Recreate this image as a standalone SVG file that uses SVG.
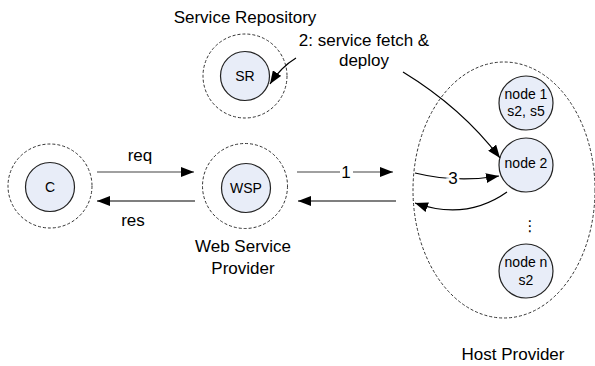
<svg xmlns="http://www.w3.org/2000/svg" width="595" height="366" viewBox="0 0 595 366">
  <defs>
    <marker id="head" viewBox="0 0 13 10" refX="13" refY="5" markerWidth="13" markerHeight="10" markerUnits="userSpaceOnUse" orient="auto">
      <path d="M0,0 L13,5 L0,10 Z" fill="#000"/>
    </marker>
    <style>
      .halo { fill: none; stroke: #333; stroke-width: 1; stroke-dasharray: 3 2; }
      .core { fill: #e8edf8; stroke: #222; stroke-width: 1.2; }
      .lbl { font-family: "Liberation Sans", Arial, sans-serif; font-size: 17px; fill: #000; text-anchor: middle; }
      .nlbl { font-family: "Liberation Sans", Arial, sans-serif; font-size: 14px; fill: #000; text-anchor: middle; }
      .gray { stroke: #808080; stroke-width: 1.5; fill: none; }
      .dark { stroke: #000; stroke-width: 1.2; fill: none; }
      .knock { paint-order: stroke; stroke: #fff; stroke-width: 5px; }
    </style>
  </defs>
  <rect width="595" height="366" fill="#fff"/>

  <!-- host provider boundary -->
  <g id="host-provider">
    <ellipse class="halo" cx="504" cy="190" rx="91" ry="128"/>
    <text class="lbl" x="513" y="360">Host Provider</text>
  </g>

  <g id="service-repository">
    <circle class="halo" cx="245" cy="76" r="42"/>
    <circle class="core" cx="245" cy="76" r="24.5"/>
    <text class="nlbl" x="245" y="81">SR</text>
    <text class="lbl" x="245" y="23">Service Repository</text>
  </g>

  <g id="client">
    <circle class="halo" cx="50" cy="186" r="42"/>
    <circle class="core" cx="50" cy="187" r="24.5"/>
    <text class="nlbl" x="50" y="192">C</text>
  </g>

  <g id="web-service-provider">
    <circle class="halo" cx="245" cy="186" r="42.5"/>
    <circle class="core" cx="246" cy="188" r="24.5"/>
    <text class="nlbl" x="246" y="193">WSP</text>
    <text class="lbl" x="243" y="252">Web Service</text>
    <text class="lbl" x="243" y="274">Provider</text>
  </g>

  <g id="node-1">
    <circle class="core" cx="526" cy="103" r="27"/>
    <text class="nlbl" x="526" y="99">node 1</text>
    <text class="nlbl" x="526" y="116">s2, s5</text>
  </g>

  <g id="node-2">
    <circle class="core" cx="526" cy="165" r="27"/>
    <text class="nlbl" x="526" y="168">node 2</text>
  </g>

  <g id="ellipsis">
    <text class="nlbl" x="530" y="231" style="font-family: 'DejaVu Sans', sans-serif; font-size: 15px;">⋮</text>
  </g>

  <g id="node-n">
    <circle class="core" cx="526" cy="271" r="27"/>
    <text class="nlbl" x="526" y="267">node n</text>
    <text class="nlbl" x="526" y="285">s2</text>
  </g>

  <!-- connectors -->
  <g id="connectors">
    <line class="gray" x1="97" y1="172" x2="194" y2="172" marker-end="url(#head)"/>
    <text class="lbl" x="140" y="161">req</text>

    <line class="dark" x1="195" y1="201" x2="97" y2="201" marker-end="url(#head)"/>
    <text class="lbl" x="133" y="226">res</text>

    <line class="gray" x1="297" y1="172" x2="340" y2="172"/>
    <line class="gray" x1="353" y1="172" x2="393" y2="172" marker-end="url(#head)"/>
    <text class="lbl" x="346" y="178">1</text>

    <line class="dark" x1="396" y1="201" x2="298" y2="201" marker-end="url(#head)"/>

    <path class="dark" d="M296,58 Q281,67 270,84" marker-end="url(#head)"/>
    <text class="lbl" x="364" y="46">2: service fetch &amp;</text>
    <text class="lbl" x="364" y="66">deploy</text>

    <path class="dark" d="M403,72 Q462,108 500,158" marker-end="url(#head)"/>

    <path class="dark" d="M415,173 Q456,183 499,176" marker-end="url(#head)"/>
    <text class="lbl knock" x="453" y="184">3</text>

    <path class="dark" d="M507,192 Q466,221 415,203" marker-end="url(#head)"/>
  </g>
</svg>
